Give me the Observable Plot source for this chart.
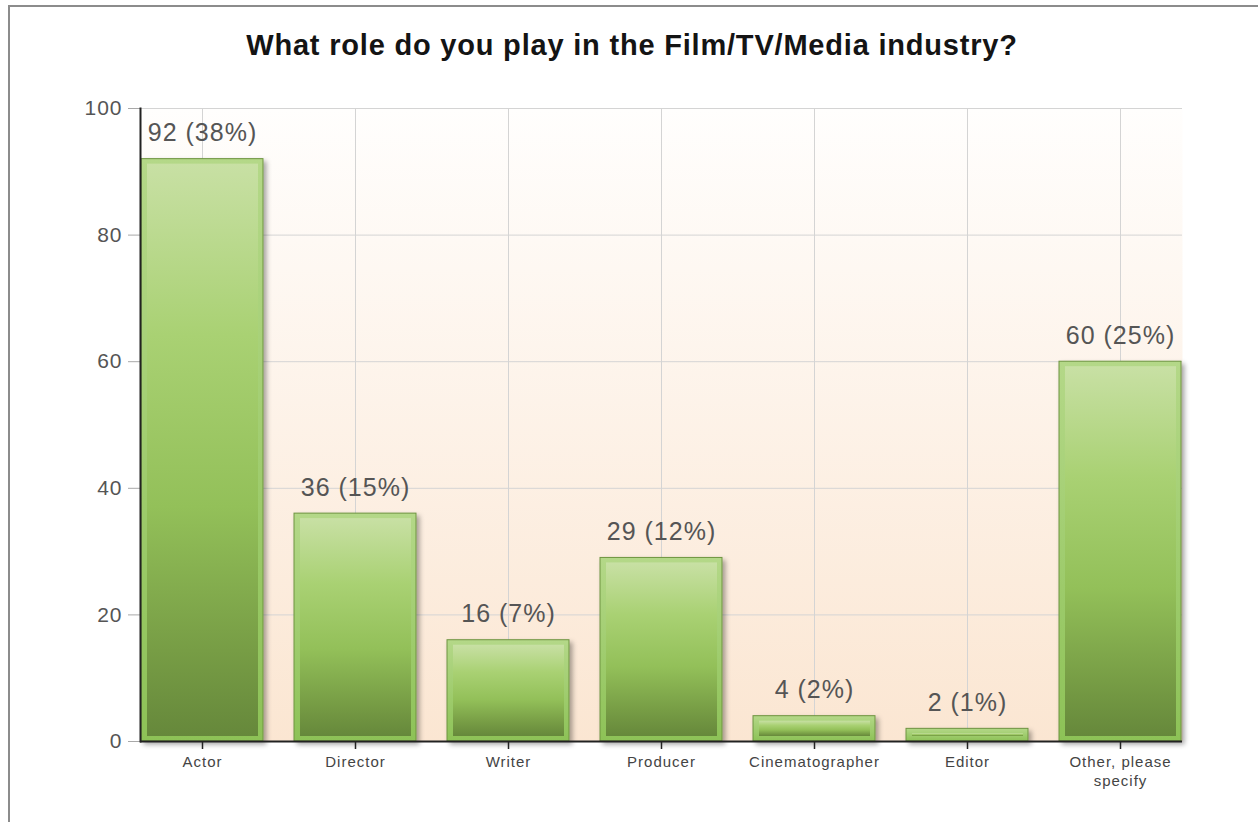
<!DOCTYPE html>
<html>
<head>
<meta charset="utf-8">
<script src="https://cdn.jsdelivr.net/npm/d3@7"></script>
<script src="https://cdn.jsdelivr.net/npm/@observablehq/plot@0.6"></script>
<style>
  body { margin: 0; background: #fff; width: 1258px; height: 822px; overflow: hidden; position: relative;
         font-family: "Liberation Sans", Arial, sans-serif; }
  #frame { position: absolute; left: 8px; top: 5px; width: 1320px; height: 900px; border: 2px solid #8c8c8c; box-sizing: border-box; }
  #title { position: absolute; top: 31px; left: 0; width: 1264px; text-align: center; font-weight: bold;
           font-size: 29px; line-height: 1; letter-spacing: 0.8px; color: #141414; }
  #chart { position: absolute; left: 0; top: 80px; }
</style>
</head>
<body>
<div id="frame"></div>
<div id="title">What role do you play in the Film/TV/Media industry?</div>
<div id="chart"></div>
<script>
const categories = ["Actor", "Director", "Writer", "Producer", "Cinematographer", "Editor", "Other, please specify"];
const tickLabels = ["Actor", "Director", "Writer", "Producer", "Cinematographer", "Editor", "Other, please\nspecify"];
const counts = [92, 36, 16, 29, 4, 2, 60];
const percents = [38, 15, 7, 12, 2, 1, 25];
const yTicks = [0, 20, 40, 60, 80, 100];

const data = categories.map((c, i) => ({
  role: c, count: counts[i], pct: percents[i], label: `${counts[i]} (${percents[i]}%)`
}));

const plot = Plot.plot({
  width: 1258,
  height: 742,
  marginLeft: 140,
  marginRight: 76,
  marginTop: 28,
  marginBottom: 81,
  style: { fontFamily: "Liberation Sans, Arial, sans-serif", background: "transparent" },
  x: { type: "band", domain: categories, paddingInner: 0.2, paddingOuter: 0, label: null },
  y: { domain: [0, 100], label: null },
  marks: [
    Plot.frame({ fill: "url(#bgGrad)", stroke: "none" }),
    Plot.gridY(yTicks.filter(d => d > 0), { stroke: "#d4d4d4", strokeOpacity: 1 }),
    Plot.gridX(categories, { stroke: "#d4d4d4", strokeOpacity: 1 }),
    Plot.barY(data, { x: "role", y: "count", fill: "url(#rimGrad)", stroke: "#6e9440", strokeWidth: 1 }),
    Plot.barY(data, { x: "role", y: "count", fill: "url(#barGrad)", insetLeft: 6, insetRight: 5, insetTop: 5, insetBottom: 5 }),
    Plot.text(data, { x: "role", y: "count", text: "label", dy: -26, lineAnchor: "middle", fontSize: 25, fill: "#555" }),
    Plot.axisY(yTicks, { tickSize: 12, text: null, stroke: "#a8a8a8", label: null }),
    Plot.axisY(yTicks, { tickSize: 0, tickPadding: 18, fontSize: 21, fill: "#555", label: null }),
    Plot.axisX(categories, { tickSize: 8, tickPadding: 4, stroke: "#222", strokeWidth: 1.5, fontSize: 15, fill: "#444",
      lineHeight: 1.25, label: null, tickFormat: d => tickLabels[categories.indexOf(d)] }),
    Plot.ruleY([0], { stroke: "#222", strokeWidth: 2 }),
    Plot.frame({ anchor: "left", stroke: "#222", strokeWidth: 2 })
  ]
});

const svg = d3.select(plot);
const defs = svg.insert("defs", ":first-child");
const bg = defs.append("linearGradient").attr("id", "bgGrad").attr("x1", 0).attr("y1", 0).attr("x2", 0).attr("y2", 1);
bg.append("stop").attr("offset", "0%").attr("stop-color", "#fffefd");
bg.append("stop").attr("offset", "100%").attr("stop-color", "#fbe6d2");
const rim = defs.append("linearGradient").attr("id", "rimGrad").attr("x1", 0).attr("y1", 0).attr("x2", 0).attr("y2", 1);
rim.append("stop").attr("offset", "0%").attr("stop-color", "#b4d888");
rim.append("stop").attr("offset", "100%").attr("stop-color", "#8dc257");
const bar = defs.append("linearGradient").attr("id", "barGrad").attr("x1", 0).attr("y1", 0).attr("x2", 0).attr("y2", 1);
[["0%", "#c8e0a4"], ["30%", "#a9d173"], ["60%", "#93c059"], ["85%", "#779d45"], ["100%", "#66883b"]]
  .forEach(([o, c]) => bar.append("stop").attr("offset", o).attr("stop-color", c));
const f = defs.append("filter").attr("id", "shadow").attr("x", "-5%").attr("y", "-5%").attr("width", "115%").attr("height", "115%");
f.append("feDropShadow").attr("dx", 3).attr("dy", 3).attr("stdDeviation", 2.5).attr("flood-color", "#000").attr("flood-opacity", 0.35);

const barGroups = plot.querySelectorAll('g[aria-label="bar"]');
if (barGroups.length) barGroups[0].setAttribute("filter", "url(#shadow)");
plot.querySelectorAll('g[aria-label="x-axis tick label"] text, g[aria-label="x-axis tick label"]').forEach(n => n.setAttribute("letter-spacing", "1px"));
plot.querySelectorAll('g[aria-label="y-axis tick label"]').forEach(n => n.setAttribute("letter-spacing", "1px"));
plot.querySelectorAll('g[aria-label="text"]').forEach(n => n.setAttribute("letter-spacing", "1px"));

document.getElementById("chart").appendChild(plot);
</script>
</body>
</html>
